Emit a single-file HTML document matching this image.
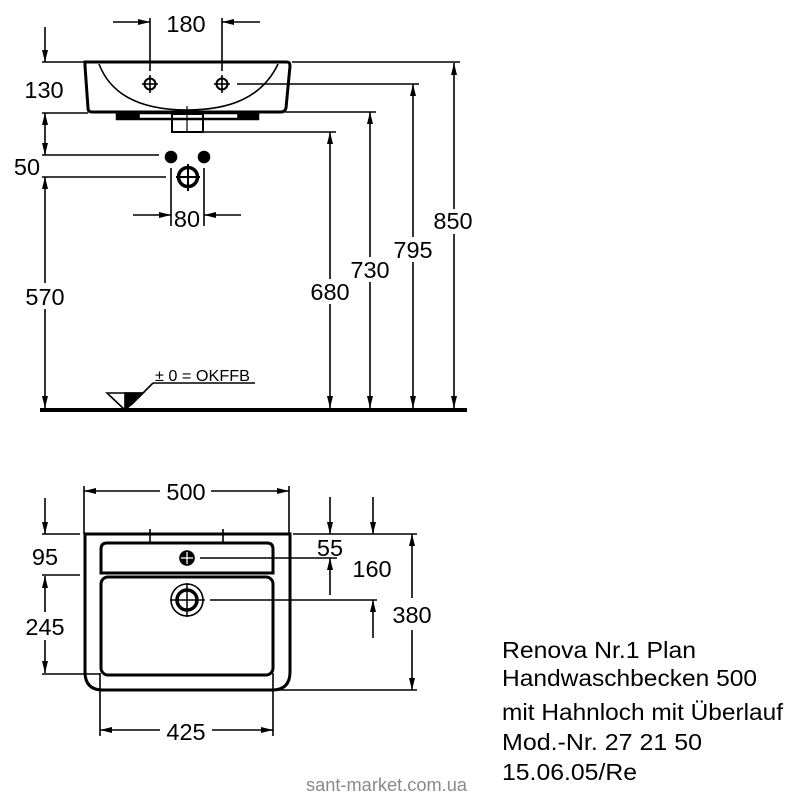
<!DOCTYPE html>
<html><head><meta charset="utf-8"><style>
html,body{margin:0;padding:0;background:#fff;}
svg{display:block;}
text{font-family:"Liberation Sans",Arial,sans-serif;fill:#000;}
</style></head><body>
<svg width="800" height="797" viewBox="0 0 800 797" xmlns="http://www.w3.org/2000/svg">
<g stroke="#000" stroke-width="1.6" fill="none" stroke-linecap="butt">
<!-- ===== TOP: side view ===== -->
<!-- 180 dimension -->
<line x1="150" y1="18" x2="150" y2="71"/>
<line x1="222" y1="18" x2="222" y2="71"/>
<line x1="113" y1="22" x2="150" y2="22"/>
<line x1="222" y1="22" x2="260" y2="22"/>
<!-- 130 / 50 / 570 left -->
<line x1="45" y1="27" x2="45" y2="62"/>
<line x1="42" y1="62" x2="85" y2="62"/>
<line x1="42" y1="113" x2="88" y2="113"/>
<line x1="45" y1="113" x2="45" y2="155"/>
<line x1="42" y1="155" x2="159" y2="155"/>
<line x1="42" y1="177" x2="166" y2="177"/>
<line x1="45" y1="177" x2="45" y2="283"/>
<line x1="45" y1="309" x2="45" y2="409"/>
<!-- right verticals -->
<line x1="292" y1="62" x2="460" y2="62"/>
<line x1="237" y1="84" x2="419" y2="84"/>
<line x1="285" y1="112" x2="376" y2="112"/>
<line x1="203" y1="132" x2="336" y2="132"/>
<line x1="330" y1="132" x2="330" y2="279"/>
<line x1="330" y1="304" x2="330" y2="409"/>
<line x1="370" y1="112" x2="370" y2="257"/>
<line x1="370" y1="282" x2="370" y2="409"/>
<line x1="413" y1="84" x2="413" y2="237"/>
<line x1="413" y1="262" x2="413" y2="409"/>
<line x1="454" y1="63" x2="454" y2="209"/>
<line x1="454" y1="234" x2="454" y2="409"/>
<!-- floor -->
<line x1="40" y1="410" x2="467" y2="410" stroke-width="4"/>
<polygon points="107,393 143,393 125,410" stroke-width="1.6"/>
<polygon points="125,393 143,393 125,410" fill="#000"/>
<line x1="131" y1="405" x2="153" y2="383"/>
<line x1="153" y1="383" x2="255" y2="383"/>
<!-- sink side view -->
<path d="M85,62 L287,62 Q290,62 290,66 L286,108 Q285,112 281,112 L92,112 Q88,112 88,108 L85,66 Z" stroke-width="3"/>
<path d="M99,64 C112,98 145,110 187,110 C229,110 262,98 278,64" stroke-width="1.6"/>
<rect x="117" y="113" width="141" height="6" stroke-width="2.5"/>
<rect x="117" y="113" width="22" height="6" fill="#000"/>
<rect x="238" y="113" width="20" height="6" fill="#000"/>
<rect x="172" y="114" width="31" height="18" stroke-width="2"/>
<line x1="187" y1="106" x2="187" y2="132" stroke-width="1.2"/>
<!-- tap holes -->
<circle cx="150" cy="84" r="5.5" stroke-width="2"/>
<line x1="142" y1="84" x2="158" y2="84"/>
<line x1="150" y1="75" x2="150" y2="93"/>
<circle cx="222" cy="84" r="5.5" stroke-width="2"/>
<line x1="214" y1="84" x2="230" y2="84"/>
<line x1="222" y1="75" x2="222" y2="93"/>
<!-- wall connections -->
<circle cx="171" cy="157" r="5.5" fill="#000"/>
<circle cx="204" cy="157" r="5.5" fill="#000"/>
<circle cx="188" cy="177" r="9.5" stroke-width="3.5"/>
<line x1="176" y1="177" x2="200" y2="177" stroke-width="2"/>
<line x1="188" y1="164" x2="188" y2="191" stroke-width="2"/>
<line x1="171" y1="168" x2="171" y2="226"/>
<line x1="204" y1="168" x2="204" y2="226"/>
<line x1="133" y1="215" x2="171" y2="215"/>
<line x1="204" y1="215" x2="241" y2="215"/>

<!-- ===== BOTTOM: plan view ===== -->
<line x1="84" y1="486" x2="84" y2="534"/>
<line x1="289" y1="486" x2="289" y2="534"/>
<line x1="84" y1="491" x2="160" y2="491"/>
<line x1="211" y1="491" x2="289" y2="491"/>
<path d="M85,534 L290,534 L290,672 Q290,690 272,690 L103,690 Q85,690 85,672 Z" stroke-width="3"/>
<line x1="150" y1="529" x2="150" y2="543"/>
<line x1="223" y1="529" x2="223" y2="543"/>
<path d="M101,573 L101,549 Q101,543 107,543 L267,543 Q273,543 273,549 L273,573 Z" stroke-width="3"/>
<rect x="101" y="577" width="172" height="98" rx="7" stroke-width="3"/>
<circle cx="187" cy="558" r="7" fill="#000"/>
<line x1="181" y1="558" x2="193" y2="558" stroke="#fff" stroke-width="1.3"/>
<line x1="187" y1="552" x2="187" y2="564" stroke="#fff" stroke-width="1.3"/>
<line x1="200" y1="558" x2="337" y2="558"/>
<circle cx="187" cy="600" r="16" stroke-width="1.6"/>
<circle cx="187" cy="600" r="10" stroke-width="3.5"/>
<line x1="170" y1="600" x2="205" y2="600" stroke-width="1.5"/>
<line x1="187" y1="583" x2="187" y2="617" stroke-width="1.5"/>
<line x1="210" y1="600" x2="377" y2="600"/>
<!-- left dims -->
<line x1="45" y1="498" x2="45" y2="534"/>
<line x1="42" y1="534" x2="80" y2="534"/>
<line x1="42" y1="575" x2="80" y2="575"/>
<line x1="45" y1="576" x2="45" y2="612"/>
<line x1="45" y1="640" x2="45" y2="673"/>
<line x1="42" y1="674" x2="100" y2="674"/>
<!-- right dims -->
<line x1="293" y1="534" x2="417" y2="534"/>
<line x1="330" y1="497" x2="330" y2="534"/>
<line x1="330" y1="558" x2="330" y2="595"/>
<line x1="373" y1="497" x2="373" y2="534"/>
<line x1="373" y1="600" x2="373" y2="638"/>
<line x1="412" y1="534" x2="412" y2="598"/>
<line x1="412" y1="630" x2="412" y2="690"/>
<line x1="273" y1="690" x2="417" y2="690"/>
<!-- 425 -->
<line x1="100" y1="673" x2="100" y2="736"/>
<line x1="273" y1="673" x2="273" y2="736"/>
<line x1="100" y1="730" x2="160" y2="730"/>
<line x1="212" y1="730" x2="273" y2="730"/>
</g>

<!-- arrowheads -->
<g fill="#000" stroke="none">
<!-- 180 -->
<polygon points="138,19 138,25 150,22"/>
<polygon points="234,19 234,25 222,22"/>
<!-- left top -->
<polygon points="42,50 48,50 45,62"/>
<polygon points="42,125 48,125 45,113"/>
<polygon points="42,143 48,143 45,155"/>
<polygon points="42,189 48,189 45,177"/>
<polygon points="42,396 48,396 45,408"/>
<!-- right verticals -->
<polygon points="327,144 333,144 330,132"/>
<polygon points="327,396 333,396 330,408"/>
<polygon points="367,124 373,124 370,112"/>
<polygon points="367,396 373,396 370,408"/>
<polygon points="410,96 416,96 413,84"/>
<polygon points="410,396 416,396 413,408"/>
<polygon points="451,75 457,75 454,63"/>
<polygon points="451,396 457,396 454,408"/>
<!-- 80 -->
<polygon points="159,212 159,218 171,215"/>
<polygon points="216,212 216,218 204,215"/>
<!-- 500 -->
<polygon points="96,488 96,494 84,491"/>
<polygon points="277,488 277,494 289,491"/>
<!-- left bottom -->
<polygon points="42,522 48,522 45,534"/>
<polygon points="42,588 48,588 45,576"/>
<polygon points="42,661 48,661 45,673"/>
<!-- right bottom -->
<polygon points="327,522 333,522 330,534"/>
<polygon points="327,570 333,570 330,558"/>
<polygon points="370,522 376,522 373,534"/>
<polygon points="370,612 376,612 373,600"/>
<polygon points="409,546 415,546 412,534"/>
<polygon points="409,678 415,678 412,690"/>
<!-- 425 -->
<polygon points="112,727 112,733 100,730"/>
<polygon points="261,727 261,733 273,730"/>
</g>

<!-- dimension texts -->
<g font-size="23.5" text-anchor="middle">
<text x="186" y="32">180</text>
<text x="44" y="98">130</text>
<text x="27" y="175">50</text>
<text x="187" y="227">80</text>
<text x="45" y="305">570</text>
<text x="330" y="300">680</text>
<text x="370" y="278">730</text>
<text x="413" y="258">795</text>
<text x="453" y="229">850</text>
<text x="186" y="500">500</text>
<text x="45" y="565">95</text>
<text x="45" y="635">245</text>
<text x="330" y="556">55</text>
<text x="372" y="577">160</text>
<text x="412" y="623">380</text>
<text x="186" y="740">425</text>
</g>
<text x="155" y="381" font-size="15.5" textLength="95" lengthAdjust="spacingAndGlyphs">± 0 = OKFFB</text>

<!-- title block -->
<g font-size="23">
<text x="502" y="658" textLength="194" lengthAdjust="spacingAndGlyphs">Renova Nr.1 Plan</text>
<text x="502" y="686" textLength="255" lengthAdjust="spacingAndGlyphs">Handwaschbecken 500</text>
<text x="502" y="720" textLength="281" lengthAdjust="spacingAndGlyphs">mit Hahnloch mit Überlauf</text>
<text x="502" y="750" textLength="200" lengthAdjust="spacingAndGlyphs">Mod.-Nr. 27 21 50</text>
<text x="502" y="780" textLength="135" lengthAdjust="spacingAndGlyphs">15.06.05/Re</text>
</g>
<text x="306" y="791" font-size="18" style="fill:#8a8a8a" textLength="161" lengthAdjust="spacingAndGlyphs">sant-market.com.ua</text>
</svg>
</body></html>
